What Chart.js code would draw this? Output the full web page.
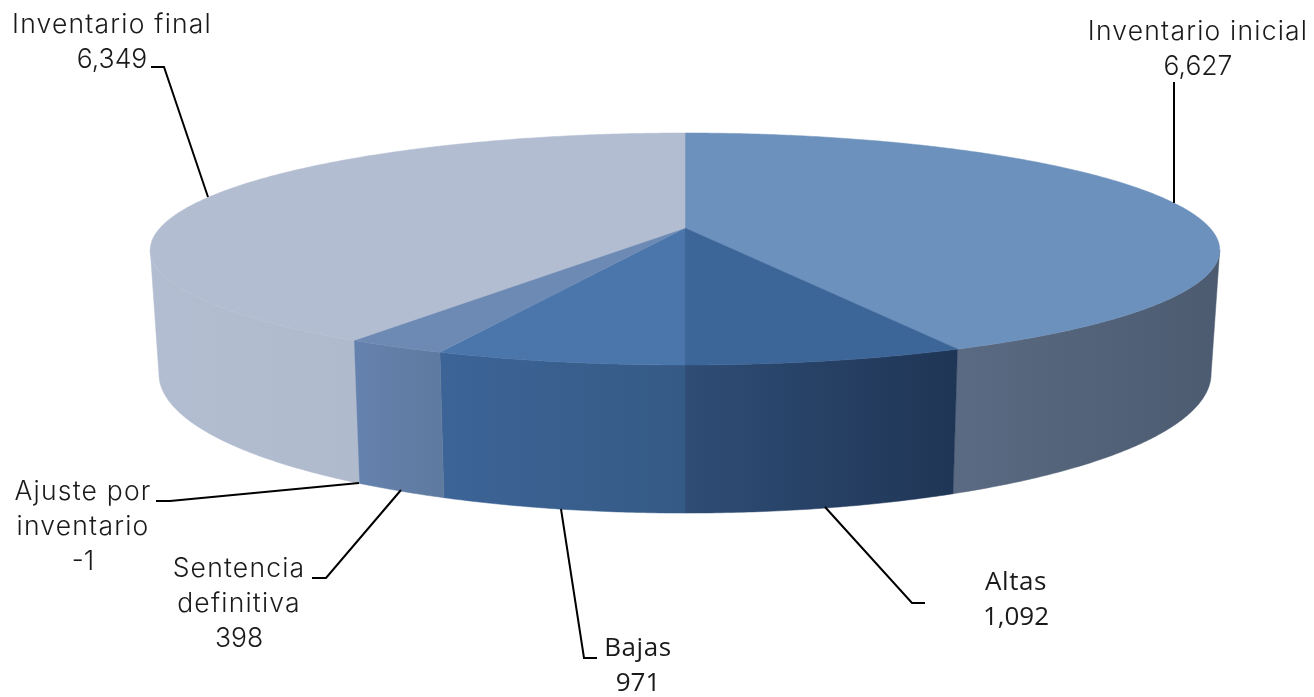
<!DOCTYPE html>
<html><head><meta charset="utf-8">
<style>html,body{margin:0;padding:0;background:#fff}canvas{display:block}</style>
<script src="https://cdn.jsdelivr.net/npm/chart.js@4"></script>
</head><body>
<canvas id="c" width="1314" height="697"></canvas>
<script>
const categories = ["Inventario inicial","Altas","Bajas","Sentencia definitiva","Ajuste por inventario","Inventario final"];
const values = [6627,1092,971,398,-1,6349];

const topColors = ["#6c91bd","#3c6598","#4a76ab","#6d8ab5","#6d8ab5","#b3bdd1"];
const wallStops = [["#5a6a82","#4c5b70"],["#2f4d75","#1f3555"],["#3d6497","#355a85"],["#6582af","#5f7a9f"],["#6582af","#6582af"],["#b3bdd1","#b0bacd"]];
const labelLines = [["Inventario inicial"],["Altas"],["Bajas"],["Sentencia","definitiva"],["Ajuste por","inventario"],["Inventario final"]];
const labelPos = [[1198,32],[1016,583],[638,649],[239,569],[83,492],[112,25]];
const labelFonts = ["300 26.5px Inter","26px 'Open Sans'","26px 'Open Sans'","300 26.5px Inter","300 26.5px Inter","300 26.5px Inter"];
const labelSpacing = ["1.2px","0.6px","0.6px","1.2px","1.2px","1.2px"];
const leaders = [
 [[1174,82],[1174,203]],
 [[825,507],[912,603],[925,603]],
 [[561,509],[584,658],[597,658]],
 [[401,490],[326,578],[312,578]],
 [[359,483],[170,501],[156,501]],
 [[151,67],[164,67],[208,197]]
];
const KX=0.19, KY=0.181, CX=685;
function topPt(a){const u=Math.cos(a),v=Math.sin(a);return [CX+525*u/(1-KX*v),228+112.2*v/(1-KY*v)];}
function lowPt(a){const u=Math.cos(a),v=Math.sin(a);return [CX+516.5*u/(1-KX*v),347+136*v/(1-KY*v)];}
const FRONT_START=Math.asin(KX), FRONT_END=Math.PI-Math.asin(KX);

const pie3d={id:'pie3d',
 beforeDatasetDraw(chart,args){
  const ctx=chart.ctx, arcs=chart.getDatasetMeta(0).data;
  arcs.forEach((el,i)=>{
    const s=Math.max(el.startAngle,FRONT_START), e=Math.min(el.endAngle,FRONT_END);
    if(e<=s) return;
    const n=Math.max(2,Math.ceil((e-s)*120));
    ctx.beginPath();
    for(let j=0;j<=n;j++){const p=topPt(s+(e-s)*j/n); j?ctx.lineTo(p[0],p[1]):ctx.moveTo(p[0],p[1]);}
    for(let j=n;j>=0;j--){const p=lowPt(s+(e-s)*j/n); ctx.lineTo(p[0],p[1]);}
    ctx.closePath();
    const x0=topPt(e)[0], x1=topPt(s)[0];
    const g=ctx.createLinearGradient(x0,0,x1,0);
    g.addColorStop(0,wallStops[i][0]); g.addColorStop(1,wallStops[i][1]);
    ctx.fillStyle=g; ctx.strokeStyle=g; ctx.lineWidth=.5; ctx.fill(); ctx.stroke();
  });
  arcs.forEach((el,i)=>{
    const s=el.startAngle,e=el.endAngle;
    const n=Math.max(2,Math.ceil((e-s)*120));
    ctx.beginPath();
    ctx.moveTo(CX,228);
    for(let j=0;j<=n;j++){const p=topPt(s+(e-s)*j/n); ctx.lineTo(p[0],p[1]);}
    ctx.closePath();
    ctx.fillStyle=el.options.backgroundColor; ctx.strokeStyle=el.options.backgroundColor; ctx.lineWidth=.5; ctx.fill(); ctx.stroke();
  });
  return false;
 },
 afterDraw(chart){
  const ctx=chart.ctx;
  ctx.save();
  ctx.strokeStyle="#000"; ctx.lineWidth=2; ctx.lineJoin='miter';
  leaders.forEach(l=>{ctx.beginPath();l.forEach((p,j)=>j?ctx.lineTo(p[0],p[1]):ctx.moveTo(p[0],p[1]));ctx.stroke();});
  ctx.fillStyle="#1a1a1a"; ctx.textAlign="center"; ctx.textBaseline="middle";
  categories.forEach((c,i)=>{
    ctx.font=labelFonts[i];
    ctx.letterSpacing=labelSpacing[i];
    labelLines[i].forEach((t,j)=>ctx.fillText(t,labelPos[i][0],labelPos[i][1]+j*34.8));
    ctx.letterSpacing='0px';
    ctx.fillText(values[i].toLocaleString('en-US'),labelPos[i][0],labelPos[i][1]+labelLines[i].length*34.8);
  });
  ctx.restore();
 }
};

new Chart(document.getElementById('c'),{
 type:'pie',
 data:{labels:categories,datasets:[{data:values,backgroundColor:topColors,borderWidth:0}]},
 options:{responsive:false,animation:false,devicePixelRatio:1,rotation:0,
  plugins:{legend:{display:false},tooltip:{enabled:false}}},
 plugins:[pie3d]
});
</script>
</body></html>
